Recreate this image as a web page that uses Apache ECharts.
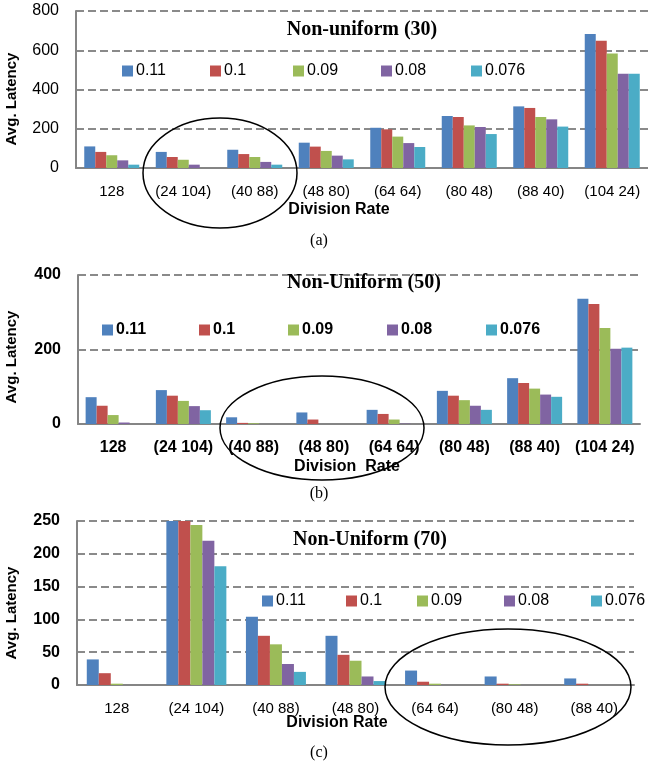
<!DOCTYPE html>
<html>
<head>
<meta charset="utf-8">
<script src="https://cdn.jsdelivr.net/npm/echarts@6/dist/echarts.min.js"></script>
<style>html,body{margin:0;padding:0;background:#fff}#c{width:648px;height:765px}</style>
</head>
<body>
<div id="c"></div>
<script>
const seriesNames = ['0.11', '0.1', '0.09', '0.08', '0.076'];
const colors = ['#4F81BD', '#C0504D', '#9BBB59', '#8064A2', '#4BACC6'];

const categoriesA = ['128', '(24 104)', '(40 88)', '(48 80)', '(64 64)', '(80 48)', '(88 40)', '(104 24)'];
const a011 = [110, 82, 93, 129, 205, 265, 314, 683];
const a010 = [82, 56, 71, 109, 197, 260, 306, 649];
const a009 = [65, 42, 56, 87, 160, 217, 260, 584];
const a008 = [39, 17, 31, 63, 127, 209, 248, 480];
const a0076 = [17, 0, 17, 44, 107, 173, 211, 480];

const categoriesB = ['128', '(24 104)', '(40 88)', '(48 80)', '(64 64)', '(80 48)', '(88 40)', '(104 24)'];
const b011 = [72, 91, 18, 31, 38, 89, 123, 336];
const b010 = [49, 76, 3, 12, 27, 76, 110, 322];
const b009 = [24, 62, 2, 0, 12, 64, 95, 258];
const b008 = [4, 48, 0, 0, 1, 49, 79, 202];
const b0076 = [0, 37, 0, 0, 0, 38, 73, 205];

const categoriesC = ['128', '(24 104)', '(40 88)', '(48 80)', '(64 64)', '(80 48)', '(88 40)'];
const c011 = [39, 250, 104, 75, 22, 13, 10];
const c010 = [18, 250, 75, 46, 5, 2, 2];
const c009 = [2, 244, 62, 37, 2, 1, 0];
const c008 = [0, 220, 32, 13, 0, 0, 0];
const c0076 = [0, 181, 20, 6, 0, 0, 0];

const titles = ['Non-uniform (30)', 'Non-Uniform (50)', 'Non-Uniform (70)'];
const yMax = [800, 400, 250];
const yInterval = [200, 200, 50];
const captions = ['(a)', '(b)', '(c)'];

const dataSets = [
  [a011, a010, a009, a008, a0076],
  [b011, b010, b009, b008, b0076],
  [c011, c010, c009, c008, c0076]
];
const cats = [categoriesA, categoriesB, categoriesC];

const grids = [
  {left: 76, top: 11, width: 573, height: 157},
  {left: 78, top: 275, width: 562, height: 149},
  {left: 77, top: 521, width: 557, height: 164}
];
const yBold = [false, true, true];
const xBold = [false, true, false];
const barW = [11, 11, 12];
const SANS = '"Liberation Sans", Arial, sans-serif';
const SERIF = '"Liberation Serif", "Times New Roman", serif';

const xAxes = [], yAxes = [], series = [], legends = [], graphics = [];
for (let g = 0; g < 3; g++) {
  xAxes.push({
    type: 'category', gridIndex: g, data: cats[g],
    axisLine: {show: true, lineStyle: {color: '#858585', width: 2}},
    axisTick: {show: false},
    axisLabel: {color: '#000', fontFamily: SANS, fontSize: xBold[g] ? 16 : 15,
      fontWeight: xBold[g] ? 'bold' : 'normal', margin: 16, interval: 0}
  });
  yAxes.push({
    type: 'value', gridIndex: g, min: 0, max: yMax[g], interval: yInterval[g],
    axisLine: {show: true, lineStyle: {color: '#858585', width: 2}},
    axisTick: {show: false},
    axisLabel: {color: '#000', fontFamily: SANS, fontSize: 16,
      fontWeight: yBold[g] ? 'bold' : 'normal', margin: 17},
    splitLine: {show: true, lineStyle: {color: '#8a8a8a', width: 2, type: [8, 4]}}
  });
  for (let s = 0; s < 5; s++) {
    series.push({
      type: 'bar', name: seriesNames[s], xAxisIndex: g, yAxisIndex: g,
      data: dataSets[g][s], barWidth: barW[g], barGap: '0%',
      itemStyle: {color: colors[s]}, animation: false
    });
  }
}

// legend item positions (left of icon) per chart, and vertical centre
const legendX = [[122, 210, 293, 381, 471], [102, 199, 288, 387, 486], [262, 346, 417, 504, 591]];
const legendY = [72, 331, 602];
const legendBold = [false, true, false];
for (let g = 0; g < 3; g++) {
  for (let s = 0; s < 5; s++) {
    legends.push({
      left: legendX[g][s], top: legendY[g] - 9, itemWidth: 11, itemHeight: 11, icon: 'rect',
      data: [seriesNames[s]], padding: 0,
      textStyle: {fontFamily: SANS, fontSize: 16, fontWeight: legendBold[g] ? 'bold' : 'normal',
        color: '#000', padding: [0, 0, 0, -2]}
    });
  }
}

const titlePos = [[362, 30], [364, 283], [370, 540]];
const divPos = [[339, 210], [347, 467], [337, 723]];
const divText = ['Division Rate', 'Division  Rate', 'Division Rate'];
const avgPos = [[12, 99], [12, 357], [12, 613]];
const capPos = [[319, 241], [319, 494], [319, 753]];
for (let g = 0; g < 3; g++) {
  graphics.push({type: 'text', x: titlePos[g][0], y: titlePos[g][1], z: 10,
    style: {text: titles[g], font: 'bold 20px ' + SERIF, fill: '#000', textAlign: 'center', textVerticalAlign: 'middle'}});
  graphics.push({type: 'text', x: divPos[g][0], y: divPos[g][1], z: 10,
    style: {text: divText[g], font: 'bold 16px ' + SANS, fill: '#000', textAlign: 'center', textVerticalAlign: 'middle'}});
  graphics.push({type: 'text', x: avgPos[g][0], y: avgPos[g][1], rotation: Math.PI / 2, z: 10,
    style: {text: 'Avg. Latency', font: 'bold 15px ' + SANS, fill: '#000', textAlign: 'center', textVerticalAlign: 'middle'}});
  graphics.push({type: 'text', x: capPos[g][0], y: capPos[g][1], z: 10,
    style: {text: captions[g], font: '16px ' + SERIF, fill: '#000', textAlign: 'center', textVerticalAlign: 'middle'}});
}
const ellipses = [[220, 173, 77, 55], [322, 428, 102, 52], [508, 687, 123, 58]];
ellipses.forEach(e => graphics.push({type: 'ellipse', z: 20,
  shape: {cx: e[0], cy: e[1], rx: e[2], ry: e[3]},
  style: {fill: 'none', stroke: '#000', lineWidth: 1.5}}));

const chart = echarts.init(document.getElementById('c'), null, {renderer: 'canvas'});
chart.setOption({
  animation: false,
  backgroundColor: '#fff',
  grid: grids,
  xAxis: xAxes,
  yAxis: yAxes,
  legend: legends,
  series: series,
  graphic: graphics
});
</script>
</body>
</html>
